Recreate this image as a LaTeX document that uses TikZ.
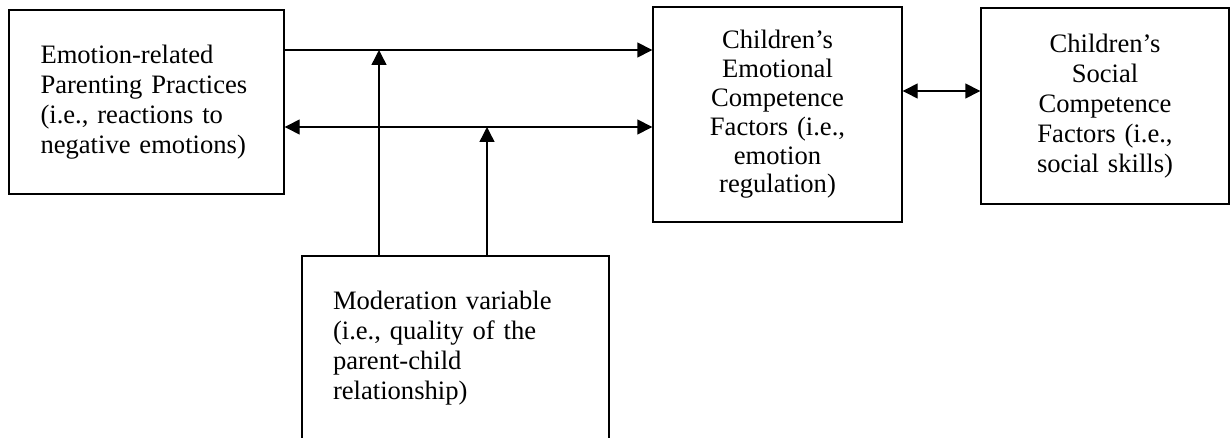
\documentclass[tikz,border=0pt]{standalone}
\usepackage{fontspec}
\setmainfont{Liberation Serif}
\usetikzlibrary{arrows.meta}

\begin{document}
\begin{tikzpicture}[x=0.5pt,y=-0.5pt,
	box/.style={draw, line width=0.7pt, inner sep=0pt, font=\fontsize{13.3}{15}\selectfont},
	tip/.tip={Triangle[length=7.5pt,width=7.5pt]},
	oneway/.style={line width=0.7pt, -tip},
	twoway/.style={line width=0.7pt, tip-tip}]
	\useasboundingbox (0,0) rectangle (1230,438);
	\node[box, minimum width=137.5pt, minimum height=92pt, text width=106pt, align=left]
		(parenting) at (146.5,102) {Emotion-related\\ Parenting Practices\\ (i.e., reactions to\\ negative emotions)};
	\node[box, minimum width=124.5pt, minimum height=107.5pt, text width=110pt, align=center,
		font=\fontsize{13.3}{14.4}\selectfont]
		(emotional) at (777.5,114.5) {Children’s\\ Emotional\\ Competence\\ Factors (i.e.,\\ emotion\\ regulation)};
	\node[box, minimum width=124pt, minimum height=98pt, text width=110pt, align=center]
		(social) at (1105,106) {Children’s\\ Social\\ Competence\\ Factors (i.e.,\\ social skills)};
	\node[box, minimum width=153.5pt, minimum height=92pt, text width=122.5pt, align=left]
		(moderation) at (455.5,348) {Moderation variable\\ (i.e., quality of the\\ parent-child\\ relationship)};
	\coordinate (upper) at (379,50);
	\coordinate (lower) at (487,127);
	\coordinate (side) at (940,91);
	\path
	(parenting.east |- upper) edge[oneway] (emotional.west |- upper)
	(parenting.east |- lower) edge[twoway] (emotional.west |- lower)
	(emotional.east |- side) edge[twoway] (social.west |- side)
	(moderation.north -| upper) edge[oneway] (upper)
	(moderation.north -| lower) edge[oneway] (lower);
\end{tikzpicture}
\end{document}
